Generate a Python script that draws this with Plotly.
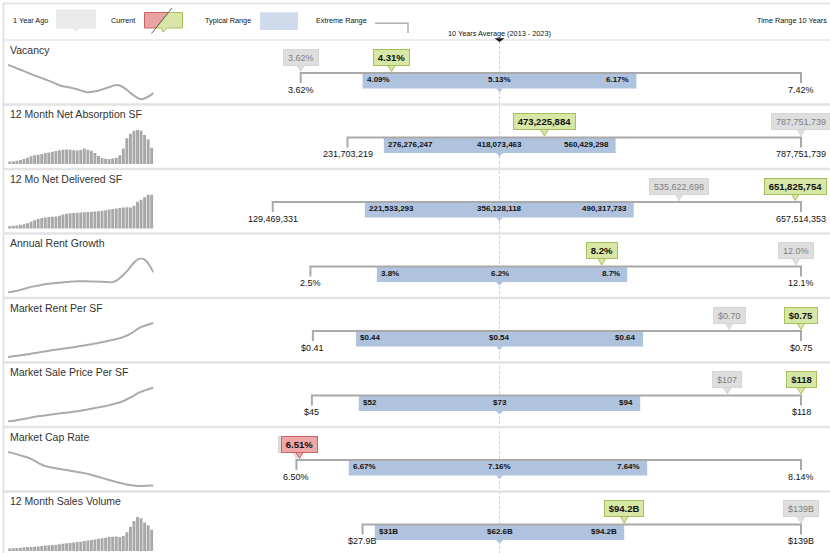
import plotly.graph_objects as go

W, H = 830, 553
FONT = "Liberation Sans, Arial, Helvetica, sans-serif"

# ---------------- data ----------------
metrics = [
    "Vacancy",
    "12 Month Net Absorption SF",
    "12 Mo Net Delivered SF",
    "Annual Rent Growth",
    "Market Rent Per SF",
    "Market Sale Price Per SF",
    "Market Cap Rate",
    "12 Month Sales Volume",
]

extreme_min = [3.62, 231703219, 129469331, 2.5, 0.41, 45, 6.50, 27.9]
typical_low = [4.09, 276276247, 221533293, 3.8, 0.44, 52, 6.67, 31]
ten_year_avg = [5.13, 418073463, 356128118, 6.2, 0.54, 73, 7.16, 62.6]
typical_high = [6.17, 560429298, 490317733, 8.7, 0.64, 94, 7.64, 94.2]
extreme_max = [7.42, 787751739, 657514353, 12.1, 0.75, 118, 8.14, 139]
one_year_ago = [3.62, 787751739, 535622698, 12.0, 0.70, 107, 6.50, 139]
current = [4.31, 473225884, 651825754, 8.2, 0.75, 118, 6.51, 94.2]
current_trend = ["good", "good", "good", "good", "good", "good", "bad", "good"]
value_format = ["pct2", "int", "int", "pct1", "usd2", "usd0", "pct2", "usdB"]

# quarterly history for the sparklines (last point = current quarter)
vacancy_hist = [7.42, 7.30, 7.15, 7.00, 6.86, 6.70, 6.55, 6.40, 6.25, 6.12, 5.98,
                5.85, 5.70, 5.56, 5.40, 5.25, 5.10, 5.02, 4.95, 4.88, 4.80, 4.70,
                4.58, 4.45, 4.38, 4.40, 4.45, 4.52, 4.62, 4.75, 4.88, 5.00, 5.12,
                5.18, 5.10, 4.90, 4.62, 4.30, 4.02, 3.78, 3.62, 3.65, 3.80, 4.02, 4.31]
absorption_hist = [232, 236, 245, 258, 275, 300, 325, 340, 352, 365, 380, 392, 405,
                   418, 430, 440, 445, 440, 430, 425, 435, 462, 440, 420, 380, 330,
                   295, 282, 278, 285, 300, 340, 460, 640, 720, 775, 787.75, 775,
                   700, 620, 473.2]
delivered_hist = [129.5, 135, 138, 150, 158, 175, 200, 225, 245, 262, 272, 280, 285,
                  290, 300, 320, 335, 342, 348, 352, 356, 360, 364, 368, 372, 378,
                  385, 392, 405, 415, 422, 430, 438, 445, 440, 470, 535.6, 570, 610,
                  657.5, 651.8]
rent_growth_hist = [2.5, 2.7, 2.9, 3.1, 3.4, 3.7, 4.0, 4.2, 4.4, 4.6, 4.8, 4.95, 5.05,
                    5.15, 5.25, 5.35, 5.45, 5.55, 5.6, 5.65, 5.7, 5.68, 5.65, 5.62,
                    5.6, 5.55, 5.5, 5.45, 5.4, 5.5, 6.0, 6.8, 7.8, 8.9, 10.2, 11.3,
                    12.0, 12.1, 11.4, 10.0, 8.2]
rent_psf_hist = [0.41, 0.415, 0.42, 0.425, 0.43, 0.435, 0.44, 0.447, 0.453, 0.459,
                 0.465, 0.471, 0.477, 0.482, 0.487, 0.492, 0.497, 0.502, 0.508, 0.514,
                 0.52, 0.526, 0.532, 0.538, 0.545, 0.552, 0.56, 0.567, 0.575, 0.583,
                 0.592, 0.60, 0.615, 0.63, 0.65, 0.675, 0.70, 0.715, 0.728, 0.74, 0.75]
sale_psf_hist = [45, 46, 47, 48.5, 50, 51.5, 53, 54.5, 56, 57, 58, 59, 60, 61, 62, 63,
                 64, 65, 66, 67, 68, 69.5, 71, 72.5, 74, 75.5, 77, 78.5, 80.5, 82.5,
                 84.5, 87, 90, 94, 98, 102.5, 107, 110, 113, 115.5, 118]
cap_rate_hist = [8.14, 8.10, 8.05, 8.00, 7.95, 7.90, 7.83, 7.75, 7.65, 7.55, 7.48,
                 7.43, 7.39, 7.36, 7.33, 7.30, 7.27, 7.24, 7.21, 7.18, 7.15, 7.12,
                 7.08, 7.03, 6.98, 6.93, 6.88, 6.83, 6.78, 6.73, 6.68, 6.64, 6.60,
                 6.56, 6.53, 6.51, 6.50, 6.50, 6.51, 6.52, 6.51]
sales_volume_hist = [27.9, 28.5, 29.5, 30.5, 32, 33, 33.5, 34, 35, 36.5, 38, 39, 40,
                     41.5, 43, 44.5, 46, 47.5, 49, 50.5, 52, 54, 56, 58, 60, 62, 64,
                     66, 68, 69, 70, 68, 72, 85, 105, 125, 139, 135, 120, 110, 94.2]

spark_series = [vacancy_hist, absorption_hist, delivered_hist, rent_growth_hist,
                rent_psf_hist, sale_psf_hist, cap_rate_hist, sales_volume_hist]
spark_kind = ["line", "bar", "bar", "line", "line", "line", "line", "bar"]

legend_labels = ["1 Year Ago", "Current", "Typical Range", "Extreme Range"]
avg_title = "10 Years Average (2013 - 2023)"
time_range_title = "Time Range 10 Years"

# ---------------- geometry / styling ----------------
HEADER_Y = 40.0
ROW_H = 64.5
CENTER_PX = 499.5     # where every row's 10-year average sits
HALF_PX = 301.5       # distance from the average to the farthest extreme
SPARK_X0, SPARK_X1 = 8.0, 153.5
LINE_Y = 33.0         # extreme-range line, relative to the row top

LINE_GRAY = "#a9a9a9"
BOX_BLUE = "#afc3df"
SEP_GRAY = "#e3e3e3"
BUBBLE_STYLE = {
    "ago": dict(fill="#dedede", line="#d6d6d6", text="#7f7f7f", bold=False, size=9),
    "good": dict(fill="#d7e7a6", line="#a7bf5a", text="#111111", bold=True, size=9.5),
    "bad": dict(fill="#eea6a6", line="#cc6464", text="#111111", bold=True, size=9.5),
}

CHAR_EM = {c: 0.556 for c in "0123456789$"}
CHAR_EM.update({",": 0.278, ".": 0.278, "%": 0.889, "B": 0.667})


def text_width(s, size):
    return sum(CHAR_EM.get(c, 0.556) for c in s) * size


def row_top(i):
    return HEADER_Y + i * ROW_H


def fx(px):
    return px / W


def fy(py):
    return 1 - py / H


def fmt(i, v):
    kind = value_format[i]
    if kind == "pct2":
        return f"{v:.2f}%"
    if kind == "pct1":
        return f"{v:.1f}%"
    if kind == "int":
        return f"{v:,.0f}"
    if kind == "usd2":
        return f"${v:.2f}"
    if kind == "usd0":
        return f"${v:.0f}"
    return f"${v:.3g}B"


def path(points, close=True):
    s = "M " + " L ".join(f"{x},{y}" for x, y in points)
    return s + (" Z" if close else "")


def xname(i):
    return "x" if i == 0 else f"x{i + 1}"


fig = go.Figure()
shapes = []
annotations = []

layout = dict(
    width=W, height=H, autosize=False,
    margin=dict(l=0, r=0, t=0, b=0),
    paper_bgcolor="white", plot_bgcolor="rgba(0,0,0,0)",
    showlegend=False, font=dict(family=FONT, color="#111"),
    bargap=0.18,
)
# pixel-space vertical axis shared by the range panels
layout["yaxis"] = dict(domain=[0, 1], range=[H, 0], visible=False, anchor="x", fixedrange=True)

# one horizontal value axis per row, spanning the full width so nothing is clipped;
# the average lands at CENTER_PX and the farthest extreme HALF_PX away from it
for i in range(8):
    avg = ten_year_avg[i]
    half = max(extreme_max[i] - avg, avg - extreme_min[i])
    per_px = half / HALF_PX
    ax = dict(domain=[0, 1], range=[avg - CENTER_PX * per_px, avg + (W - CENTER_PX) * per_px],
              visible=False, anchor="y", fixedrange=True)
    if i:
        ax["overlaying"] = "x"
    layout["xaxis" if i == 0 else f"xaxis{i + 1}"] = ax

# ---------------- frame ----------------
shapes.append(dict(type="line", xref="paper", yref="y", x0=fx(3), x1=1, y0=3.5, y1=3.5,
                   line=dict(color="#e6e6e6", width=2)))
shapes.append(dict(type="line", xref="paper", yref="y", x0=fx(3.5), x1=fx(3.5), y0=3, y1=H,
                   line=dict(color="#e3e3e3", width=2)))
shapes.append(dict(type="line", xref="paper", yref="y", x0=fx(3), x1=1, y0=HEADER_Y, y1=HEADER_Y,
                   line=dict(color="#e6e6e6", width=1.5)))
for i in range(1, 8):
    y = row_top(i)
    shapes.append(dict(type="line", xref="paper", yref="y", x0=fx(3), x1=1, y0=y, y1=y,
                       line=dict(color=SEP_GRAY, width=2.5)))

# dashed 10-year average guide
shapes.append(dict(type="line", xref="x", yref="y", x0=ten_year_avg[0], x1=ten_year_avg[0],
                   y0=HEADER_Y + 1, y1=H, layer="below",
                   line=dict(color="#d2d2d2", width=1, dash="3px,2px")))

# ---------------- header / legend ----------------
hdr_font = dict(family=FONT, size=7.3, color="#111")
for label, xc in zip(legend_labels, [30.5, 123.3, 228, 341]):
    annotations.append(dict(text=label, xref="paper", yref="y", x=fx(xc), y=20,
                            xanchor="center", yanchor="middle", showarrow=False, font=hdr_font))
# 1 year ago swatch
shapes.append(dict(type="path", xref="paper", yref="y", fillcolor="#ebebeb", line=dict(width=0),
                   path=path([(fx(56), 9.5), (fx(96), 9.5), (fx(96), 28.5), (fx(79.5), 28.5),
                              (fx(76), 32), (fx(72.5), 28.5), (fx(56), 28.5)])))
# current swatch (unfavourable / favourable halves)
shapes.append(dict(type="path", xref="paper", yref="y", fillcolor="#e9a3a3",
                   line=dict(color="#c86464", width=1),
                   path=path([(fx(144.5), 12.5), (fx(168.5), 12.5), (fx(156), 28),
                              (fx(144.5), 28)])))
shapes.append(dict(type="path", xref="paper", yref="y", fillcolor="#d7e6a8",
                   line=dict(color="#a8bf5c", width=1),
                   path=path([(fx(168.5), 12.5), (fx(182.5), 12.5), (fx(182.5), 28),
                              (fx(167.5), 28), (fx(163), 32), (fx(161.5), 28), (fx(156), 28)])))
shapes.append(dict(type="line", xref="paper", yref="y", x0=fx(151.5), y0=33.5, x1=fx(172), y1=8,
                   line=dict(color="#666", width=1)))
# typical range swatch
shapes.append(dict(type="rect", xref="paper", yref="y", x0=fx(260), x1=fx(298), y0=12.3, y1=30,
                   fillcolor="#cfdbeb", line=dict(width=0)))
# extreme range swatch
shapes.append(dict(type="path", xref="paper", yref="y", line=dict(color="#b0b0b0", width=1.5),
                   path=path([(fx(375), 23.3), (fx(408), 23.3), (fx(408), 33)], close=False)))
annotations.append(dict(text=time_range_title, xref="paper", yref="y", x=fx(829), y=20,
                        xanchor="right", yanchor="middle", showarrow=False, font=hdr_font))
annotations.append(dict(text=avg_title, xref="x", yref="y", x=ten_year_avg[0], y=33,
                        xanchor="center", yanchor="middle", showarrow=False, font=hdr_font))
shapes.append(dict(type="path", xref="x", yref="y", xsizemode="pixel", xanchor=ten_year_avg[0],
                   ysizemode="pixel", yanchor=42, fillcolor="#111", line=dict(width=0),
                   path=path([(-5, 3.8), (5, 3.8), (0, 0)])))


# ---------------- rows ----------------
def bubble(i, value, style_key):
    """Callout box above the range line with a pointer down to the value."""
    st = BUBBLE_STYLE[style_key]
    txt = fmt(i, value)
    tip_y = row_top(i) + LINE_Y - 1.5
    # pointer (open path: only the two slanted sides are stroked)
    shapes.append(dict(type="path", xref=xname(i), yref="y", xsizemode="pixel", xanchor=value,
                       ysizemode="pixel", yanchor=tip_y, fillcolor=st["fill"],
                       line=dict(color=st["line"], width=1),
                       path="M -4.5,7.5 L 0,0 L 4.5,7.5"))
    label = f"<b>{txt}</b>" if st["bold"] else txt
    annotations.append(dict(text=label, xref=xname(i), yref="y", x=value, y=tip_y - 14.5,
                            xanchor="center", yanchor="middle", showarrow=False,
                            width=text_width(txt, st["size"]) + 4, height=11,
                            bgcolor=st["fill"], bordercolor=st["line"], borderwidth=1, borderpad=2,
                            font=dict(family=FONT, size=st["size"], color=st["text"])))


for i in range(8):
    t = row_top(i)
    xa = xname(i)
    lo, avg, hi = typical_low[i], ten_year_avg[i], typical_high[i]
    mn, mx = extreme_min[i], extreme_max[i]
    ly = t + LINE_Y

    # title
    annotations.append(dict(text=metrics[i], xref="paper", yref="y", x=fx(8), y=t + 9.5,
                            xanchor="left", yanchor="middle", showarrow=False,
                            font=dict(family=FONT, size=10.5, color="#333")))

    # typical range box + notch at the average
    shapes.append(dict(type="rect", xref=xa, yref="y", x0=lo, x1=hi, y0=ly + 0.5, y1=ly + 15.5,
                       fillcolor=BOX_BLUE, line=dict(width=0), layer="below"))
    shapes.append(dict(type="path", xref=xa, yref="y", xsizemode="pixel", xanchor=avg,
                       ysizemode="pixel", yanchor=ly + 15.4, fillcolor=BOX_BLUE, line=dict(width=0),
                       path=path([(-3.5, 0), (3.5, 0), (0, -3.5)])))

    # extreme range bracket
    fig.add_trace(go.Scatter(x=[mn, mn, mx, mx], y=[ly + 10, ly, ly, ly + 10],
                             xaxis=xa, yaxis="y", mode="lines", hoverinfo="skip",
                             line=dict(color=LINE_GRAY, width=2)))

    box_font = dict(family=FONT, size=8, color="#111")
    annotations.append(dict(text=f"<b>{fmt(i, lo)}</b>", xref=xa, yref="y", x=lo, y=ly + 6.5,
                            xanchor="left", xshift=2, yanchor="middle", showarrow=False, font=box_font))
    annotations.append(dict(text=f"<b>{fmt(i, avg)}</b>", xref=xa, yref="y", x=avg, y=ly + 6.5,
                            xanchor="center", yanchor="middle", showarrow=False, font=box_font))
    annotations.append(dict(text=f"<b>{fmt(i, hi)}</b>", xref=xa, yref="y", x=hi, y=ly + 6.5,
                            xanchor="right", xshift=-5, yanchor="middle", showarrow=False, font=box_font))
    end_font = dict(family=FONT, size=9, color="#111")
    for v in (mn, mx):
        annotations.append(dict(text=fmt(i, v), xref=xa, yref="y", x=v, y=ly + 16.5,
                                xanchor="center", yanchor="middle", showarrow=False, font=end_font))

    # bubbles: one year ago underneath, current on top
    bubble(i, one_year_ago[i], "ago")
    bubble(i, current[i], current_trend[i])

    # sparkline
    sx, sy = f"x{9 + i}", f"y{2 + i}"
    series = spark_series[i]
    n = len(series)
    smin, smax = min(series), max(series)
    if spark_kind[i] == "bar":
        fig.add_trace(go.Bar(x=list(range(n)), y=series, xaxis=sx, yaxis=sy,
                             marker=dict(color="#a8a8a8", line=dict(width=0)), hoverinfo="skip"))
        xr = [-0.5, n - 0.5]
        yr = [smin - 0.08 * (smax - smin), smax]
        ydom = [fy(t + 59.5), fy(t + 25.5)]
    else:
        fig.add_trace(go.Scatter(x=list(range(n)), y=series, xaxis=sx, yaxis=sy, mode="lines",
                                 line=dict(color="#ababab", width=2, shape="spline", smoothing=0.6),
                                 hoverinfo="skip"))
        xr = [0, n - 1]
        pad = 0.03 * (smax - smin)
        yr = [smin - pad, smax + pad]
        ydom = [fy(t + 60), fy(t + 24)]
    layout[f"xaxis{9 + i}"] = dict(domain=[fx(SPARK_X0), fx(SPARK_X1)], range=xr, visible=False,
                                   anchor=sy, fixedrange=True)
    layout[f"yaxis{2 + i}"] = dict(domain=ydom, range=yr, visible=False, anchor=sx, fixedrange=True)

layout["shapes"] = shapes
layout["annotations"] = annotations
fig.update_layout(**layout)
fig.write_html("out.html", config={"displayModeBar": False})
